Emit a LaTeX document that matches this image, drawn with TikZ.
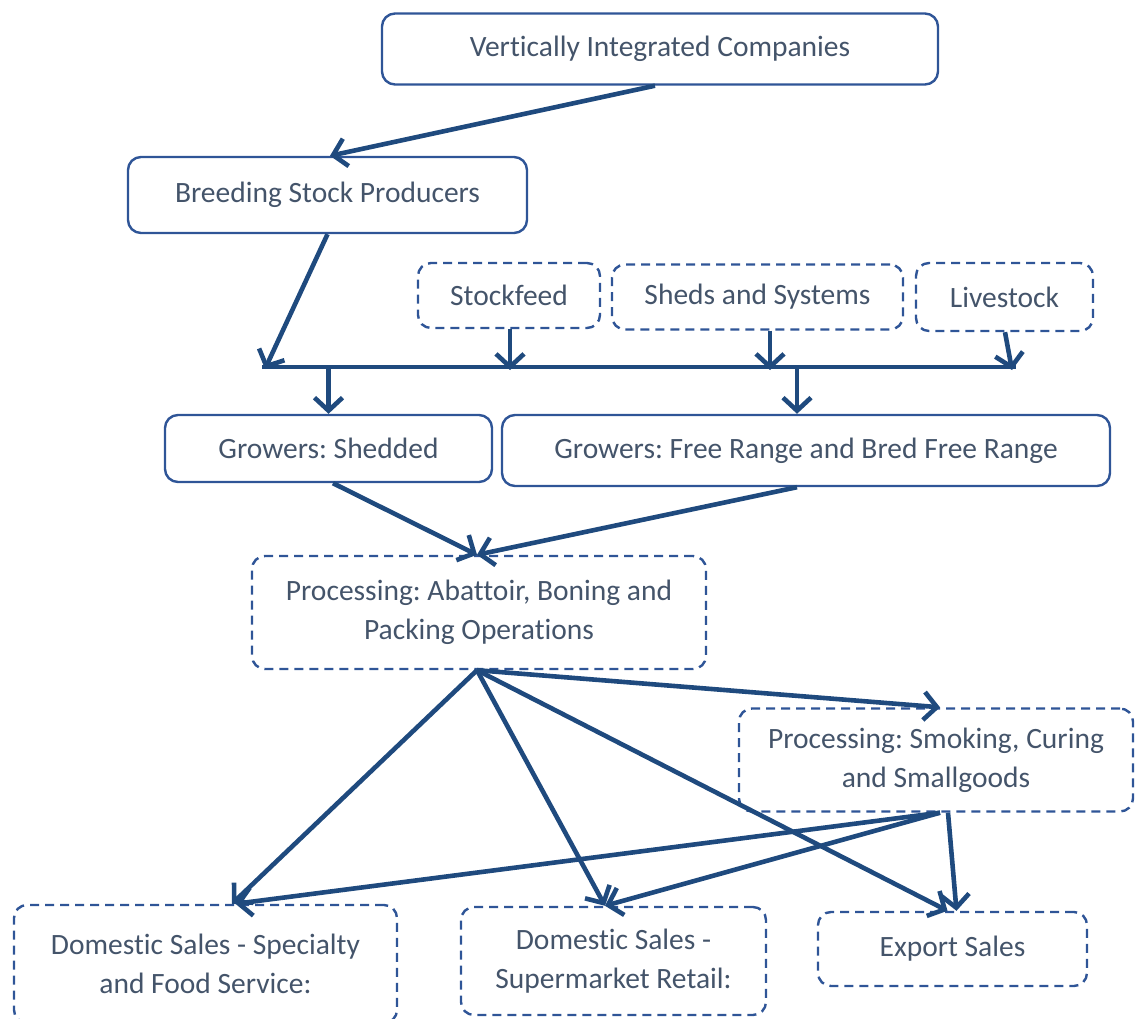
\documentclass[tikz,border=0pt]{standalone}
\usepackage{fontspec}
\setmainfont{Carlito}[Ligatures={NoCommon}]
\usetikzlibrary{arrows.meta}
\definecolor{txt}{HTML}{44546A}
\definecolor{edge}{HTML}{2F5597}
\definecolor{arr}{HTML}{1F4A7E}
\frenchspacing
\begin{document}
\begin{tikzpicture}[x=1pt,y=-1pt,
  solidbox/.style={draw=edge, line width=2.4pt, rounded corners=13pt, inner sep=0pt, align=center, text=txt, font=\fontsize{29.5}{39}\selectfont},
  dashbox/.style={solidbox, dash pattern=on 9pt off 6pt},
  flow/.style={draw=arr, line width=4.6pt, -{Straight Barb[length=13pt,width=28pt,line width=4.6pt]}},
  barline/.style={draw=arr, line width=4.6pt}]
\useasboundingbox (0,0) rectangle (1135,1019);
\clip (0,0) rectangle (1135,1019);
\node[solidbox, minimum width=556pt, minimum height=71pt] (vic) at (660,49) {Vertically Integrated Companies};
\node[solidbox, minimum width=399pt, minimum height=76pt] (bsp) at (327.5,195) {Breeding Stock Producers};
\node[dashbox, minimum width=182pt, minimum height=65pt] (sf) at (509,295.5) {Stockfeed};
\node[dashbox, minimum width=291pt, minimum height=65pt] (sas) at (757.5,297) {Sheds and Systems};
\node[dashbox, minimum width=177pt, minimum height=68pt] (ls) at (1004.5,297) {Livestock};
\node[solidbox, minimum width=327pt, minimum height=67pt] (gs) at (328.5,448.5) {Growers: Shedded};
\node[solidbox, minimum width=608pt, minimum height=71pt] (gf) at (806,450.5) {Growers: Free Range and Bred Free Range};
\node[dashbox, minimum width=454pt, minimum height=113pt] (pa) at (479,612.5) {Processing: Abattoir, Boning and\\Packing Operations};
\node[dashbox, minimum width=394pt, minimum height=103pt] (ps) at (936,760) {Processing: Smoking, Curing\\and Smallgoods};
\node[dashbox, minimum width=383pt, minimum height=118pt] (ds) at (205.5,964) {Domestic Sales - Specialty\\and Food Service:};
\node[dashbox, minimum width=305pt, minimum height=108pt] (dm) at (613.5,961) {Domestic Sales -\\Supermarket Retail:};
\node[dashbox, minimum width=269pt, minimum height=74pt] (ex) at (952.5,949) {Export Sales};
\coordinate (barL) at (262,367);
\coordinate (barR) at (1016,367);
\draw[barline] (barL) -- (barR);
\draw[flow] ([xshift=-5pt]vic.south) -- ([xshift=2.5pt]bsp.north);
\draw[flow] (bsp.south) -- ([xshift=3pt,yshift=-2pt]barL);
\draw[flow] ([xshift=1pt]sf.south) -- ([xshift=1pt,yshift=-3pt]sf.south |- barL);
\draw[flow] ([xshift=12.5pt]sas.south) -- ([xshift=12.5pt,yshift=-3pt]sas.south |- barL);
\draw[flow] ([xshift=0.5pt]ls.south) -- ([xshift=7.5pt,yshift=-3pt]ls.south |- barL);
\draw[flow] (gs.north |- barL) -- (gs.north);
\draw[flow] ([xshift=-9pt]gf.north |- barL) -- ([xshift=-9pt]gf.north);
\draw[flow] ([xshift=4.5pt]gs.south) -- ([xshift=-2pt]pa.north);
\draw[flow] ([xshift=-9pt]gf.south) -- ([xshift=-2pt]pa.north);
\draw[flow] ([xshift=-2pt]pa.south) -- ([xshift=26.5pt]ds.north);
\draw[flow] ([xshift=-2pt]pa.south) -- ([xshift=-8.5pt]dm.north);
\draw[flow] ([xshift=-2pt]pa.south) -- ([xshift=-5pt]ex.north);
\draw[flow] ([xshift=-2pt]pa.south) -- ([xshift=4pt]ps.north);
\draw[flow] ([xshift=4pt]ps.south) -- ([xshift=30pt]ds.north);
\draw[flow] ([xshift=4pt]ps.south) -- ([xshift=-8.5pt]dm.north);
\draw[flow] ([xshift=12pt]ps.south) -- ([xshift=4pt]ex.north);
\end{tikzpicture}
\end{document}
